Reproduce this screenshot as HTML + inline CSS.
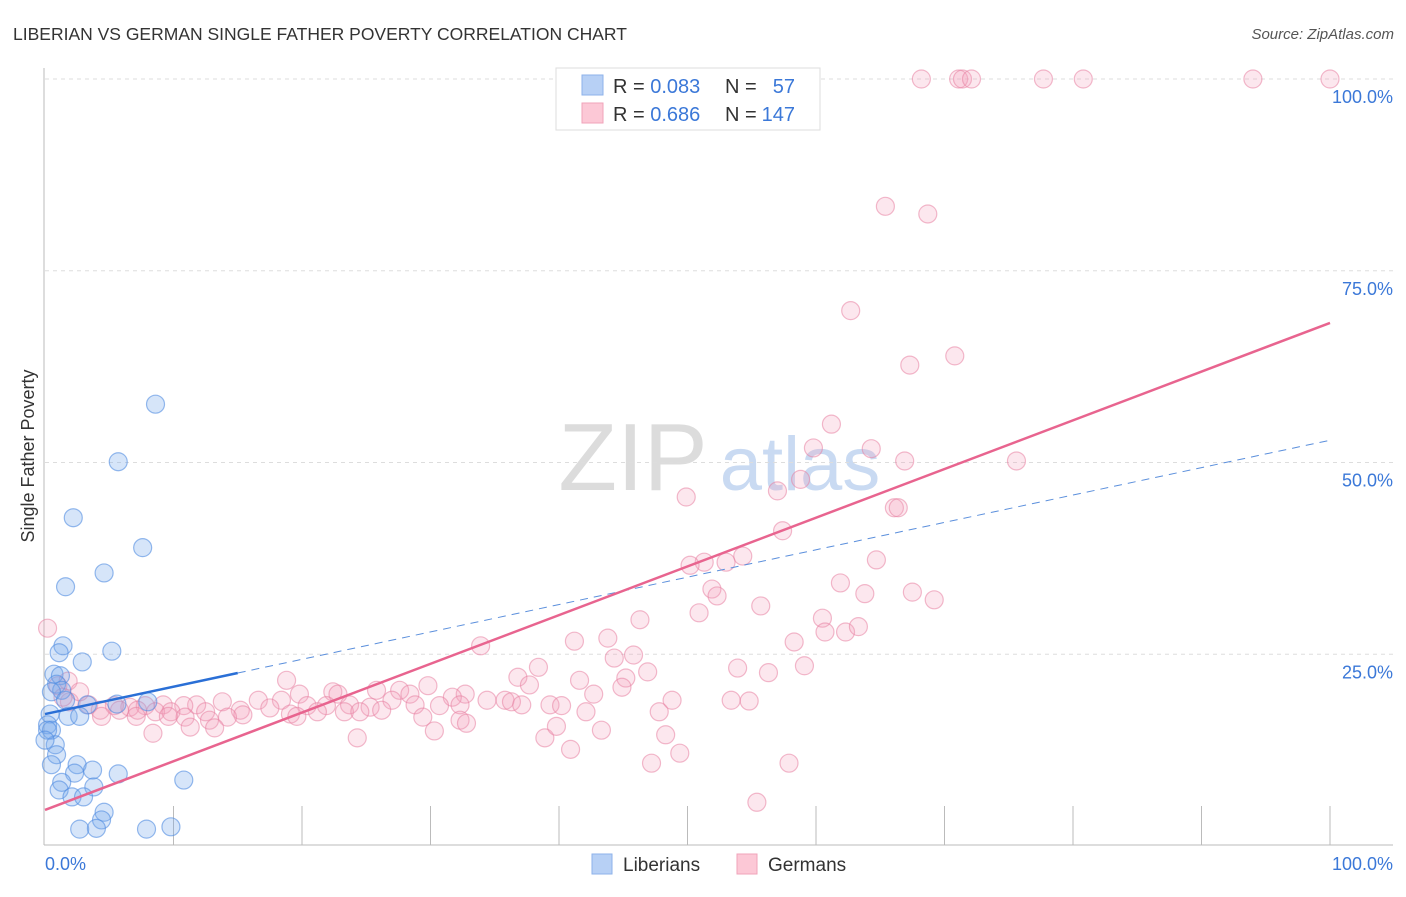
<!DOCTYPE html>
<html><head><meta charset="utf-8"><style>
body{margin:0;background:#fff;font-family:"Liberation Sans",sans-serif;}
svg text{font-family:"Liberation Sans",sans-serif;}
</style></head><body>
<svg id="chart" width="1406" height="892" xmlns="http://www.w3.org/2000/svg">
<text x="13" y="40" font-size="17.5" fill="#333">LIBERIAN VS GERMAN SINGLE FATHER POVERTY CORRELATION CHART</text>
<text x="1394" y="39" font-size="15" fill="#555" font-style="italic" text-anchor="end">Source: ZipAtlas.com</text>
<g>
<text x="633" y="490" font-size="96" fill="#dcdcdc" font-family="Liberation Serif" text-anchor="middle">ZIP</text>
<text x="800" y="490" font-size="76" fill="#c9daf2" text-anchor="middle">atlas</text>
</g>
<g id="grid"></g>
<g id="axes"></g>
<g id="pts"></g>
<g id="trends"></g>
<text x="34" y="456" font-size="18" fill="#333" transform="rotate(-90 34 456)" text-anchor="middle">Single Father Poverty</text>
<g>
<rect x="556" y="68" width="264" height="62" fill="#fff" stroke="#ddd"/>
<rect x="582" y="75" width="21" height="20" fill="#b7d0f5" stroke="#8db2ea"/>
<rect x="582" y="103" width="21" height="20" fill="#fcc8d6" stroke="#f0a3ba"/>
<text x="613" y="93" font-size="20" fill="#333">R = <tspan fill="#3b78d8">0.083</tspan></text>
<text x="725" y="93" font-size="20" fill="#333">N = </text><text x="795" y="93" font-size="20" fill="#3b78d8" text-anchor="end">57</text>
<text x="613" y="121" font-size="20" fill="#333">R = <tspan fill="#3b78d8">0.686</tspan></text>
<text x="725" y="121" font-size="20" fill="#333">N = </text><text x="795" y="121" font-size="20" fill="#3b78d8" text-anchor="end">147</text>
</g>
<g>
<rect x="592" y="854" width="20" height="20" fill="#b7d0f5" stroke="#8db2ea"/>
<text x="623" y="871" font-size="19" fill="#333">Liberians</text>
<rect x="737" y="854" width="20" height="20" fill="#fcc8d6" stroke="#f0a3ba"/>
<text x="768" y="871" font-size="19" fill="#333">Germans</text>
</g>
</svg>
<script>
const yTicks=[25,50,75,100];
const yTickLabels=["25.0%","50.0%","75.0%","100.0%"];
const libX=[8.6,5.7,2.2,7.6,4.6,1.6,1.4,1.1,5.2,2.9,0.7,1.2,0.9,1.3,0.5,1.6,3.3,5.6,8.0,0.4,1.8,2.7,0.2,0.5,0.8,0.9,0.5,2.5,3.7,5.7,2.3,1.3,10.8,3.8,1.1,2.1,3.0,4.6,4.4,2.7,4.0,7.9,9.8,0.2,0.0];
const libY=[57.6,50.1,42.8,38.9,35.6,33.8,26.1,25.2,25.4,24.0,22.4,22.2,21.1,20.3,20.1,19.0,18.4,18.5,18.8,17.2,16.9,16.9,15.8,15.1,13.2,11.9,10.6,10.6,9.9,9.4,9.5,8.3,8.6,7.7,7.3,6.4,6.4,4.4,3.4,2.2,2.3,2.2,2.5,15.1,13.8];
const gerX=[68.2,71.1,71.4,72.1,77.7,80.8,94.0,100,65.4,68.7,62.7,67.3,70.8,61.2,59.8,64.3,66.9,75.6,58.8,49.9,57.0,66.1,66.4,57.4,54.3,53.0,51.3,50.2,64.7,61.9,51.9,52.3,63.8,67.5,69.2,55.7,50.9,46.3,60.5,60.7,62.3,63.3,41.2,43.8,33.9,58.3,44.3,45.8,59.1,53.9,56.3,38.4,36.8,41.6,45.2,46.9,44.9,37.7,42.7,18.8,29.8,25.8,27.6,28.4,22.4,22.8,19.8,18.4,16.6,32.7,31.7,34.4,35.8,36.3,32.3,27.0,20.4,21.9,30.7,28.8,25.3,23.7,39.3,40.2,42.1,48.8,53.4,54.8,47.8,37.1,13.8,11.8,10.8,9.2,7.8,6.6,5.4,3.4,1.9,4.3,5.8,7.2,8.6,9.8,12.5,15.2,17.5,19.1,21.2,23.3,24.5,26.2,15.4,14.2,12.8,10.9,9.6,7.1,4.4,29.4,32.3,11.3,13.2,8.4,19.6,0.2,1.0,1.8,2.7,1.4,24.3,30.3,38.9,39.8,40.9,43.3,48.3,49.4,47.2,57.9,55.4,32.8];
const gerY=[100,100,100,100,100,100,100,100,83.4,82.4,69.8,62.7,63.9,55.0,51.9,51.8,50.2,50.2,47.8,45.5,46.3,44.1,44.1,41.1,37.8,37.0,37.0,36.6,37.3,34.3,33.5,32.6,32.9,33.1,32.1,31.3,30.4,29.5,29.7,27.9,27.9,28.6,26.7,27.1,26.1,26.6,24.5,24.9,23.5,23.2,22.6,23.3,22.0,21.6,21.9,22.7,20.7,21.0,19.8,21.6,20.9,20.3,20.3,19.8,20.1,19.8,19.8,19.0,19.0,19.8,19.4,19.0,19.0,18.8,18.4,19.0,18.3,18.3,18.3,18.4,18.1,18.4,18.4,18.3,17.5,19.0,19.0,18.9,17.5,18.4,18.8,18.4,18.3,18.4,18.3,18.1,18.3,18.4,18.8,17.7,17.7,17.7,17.5,17.5,17.5,17.7,18.0,17.2,17.5,17.5,17.5,17.7,17.1,16.8,16.4,16.8,16.9,16.9,16.9,16.8,16.4,15.5,15.4,14.7,16.9,28.4,20.9,21.5,20.1,19.4,14.1,15.0,14.1,15.6,12.6,15.1,14.5,12.1,10.8,10.8,5.7,16.0];
const libTrend=[17.2,52.9];
const gerTrend=[4.7,68.2];

const NS="http://www.w3.org/2000/svg";
const X0=45,X1=1330,Y0=846,Y1=79;
const sx=v=>X0+(X1-X0)*v/100, sy=v=>Y0-(Y0-Y1)*v/100;
function mk(parent,tag,attrs){const e=document.createElementNS(NS,tag);for(const k in attrs)e.setAttribute(k,attrs[k]);document.getElementById(parent).appendChild(e);return e;}
yTicks.forEach((t,i)=>{
 const g=mk('grid','line',{x1:45,x2:1393,y1:sy(t),y2:sy(t),stroke:'#ddd','stroke-dasharray':'4 4'});
 
 
 const l=mk('axes','text',{x:1393,y:sy(t)+24,'font-size':18,fill:'#3b78d8','text-anchor':'end'});
 l.textContent=yTickLabels[i];
 
 
});
const ax=mk('axes','line',{x1:44,x2:44,y1:68,y2:845,stroke:'#bbb'});


const bx=mk('axes','line',{x1:44,x2:1393,y1:845,y2:845,stroke:'#bbb'});


for(let k=1;k<=10;k++){const t=mk('axes','line',{x1:sx(k*10),x2:sx(k*10),y1:806,y2:845,stroke:'#bbb'});
 
 }
const xl0=mk('axes','text',{x:45,y:870,'font-size':18,fill:'#3b78d8'});xl0.textContent='0.0%';


const xl1=mk('axes','text',{x:1393,y:870,'font-size':18,fill:'#3b78d8','text-anchor':'end'});xl1.textContent='100.0%';


gerX.forEach((v,i)=>{const c=mk('pts','circle',{cx:sx(v),cy:sy(gerY[i]),r:9,fill:'rgba(245,160,188,0.25)',stroke:'rgba(232,130,162,0.55)','stroke-width':1.2});
 
 });
libX.forEach((v,i)=>{const c=mk('pts','circle',{cx:sx(v),cy:sy(libY[i]),r:9,fill:'rgba(120,168,235,0.3)',stroke:'rgba(80,140,225,0.6)','stroke-width':1.2});
 
 });
const ly=x=>libTrend[0]+(libTrend[1]-libTrend[0])*x/100;
const t1=mk('trends','line',{x1:sx(0),y1:sy(ly(0)),x2:sx(15),y2:sy(ly(15)),stroke:'#2a6fd6','stroke-width':2.5});


const t2=mk('trends','line',{x1:sx(15),y1:sy(ly(15)),x2:sx(100),y2:sy(ly(100)),stroke:'#5b8fdc','stroke-width':1,'stroke-dasharray':'8 6'});


const t3=mk('trends','line',{x1:sx(0),y1:sy(gerTrend[0]),x2:sx(100),y2:sy(gerTrend[1]),stroke:'#e8648f','stroke-width':2.5});


</script>
</body></html>
